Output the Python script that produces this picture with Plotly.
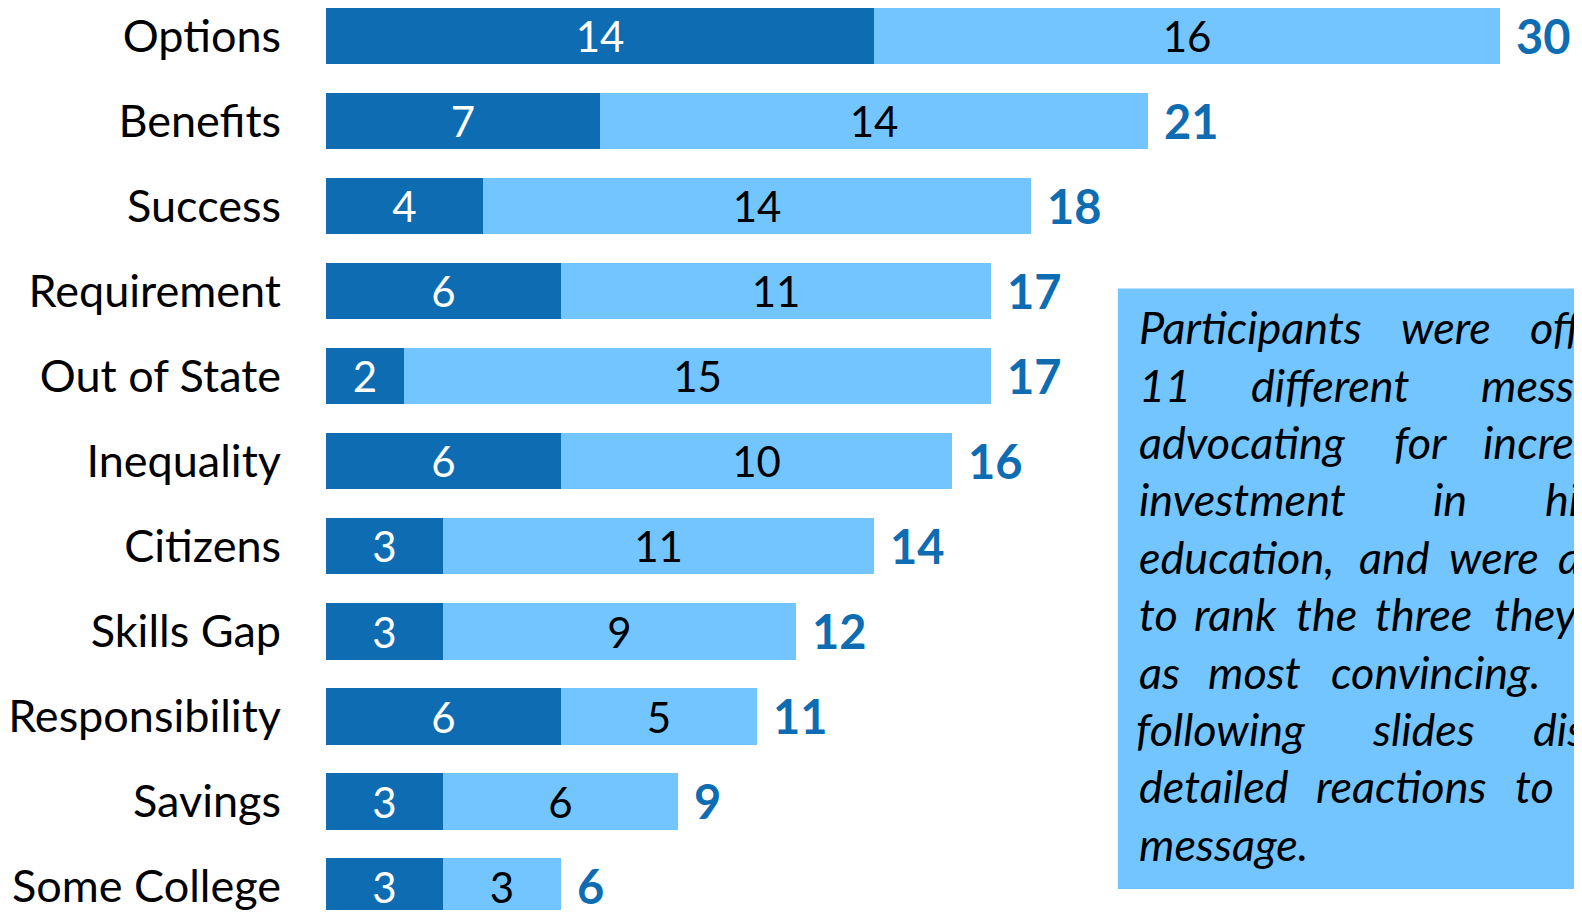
import plotly.graph_objects as go

# ---- data ----
categories = ["Options", "Benefits", "Success", "Requirement", "Out of State",
              "Inequality", "Citizens", "Skills Gap", "Responsibility",
              "Savings", "Some College"]
first_choice = [14, 7, 4, 6, 2, 6, 3, 3, 6, 3, 3]
other_choice = [16, 14, 14, 11, 15, 10, 11, 9, 5, 6, 3]
totals = [30, 21, 18, 17, 17, 16, 14, 12, 11, 9, 6]

note_lines = [
    ["Participants", "were", "offered"],
    ["11", "different", "messages"],
    ["advocating", "for", "increased"],
    ["investment", "in", "higher"],
    ["education,", "and", "were", "asked"],
    ["to", "rank", "the", "three", "they", "saw"],
    ["as", "most", "convincing.", "The"],
    ["following", "slides", "display"],
    ["detailed", "reactions", "to", "each"],
    ["message."],
]

# ---- layout geometry (window pixels; page body has an 8px margin) ----
OFF = 8
W, H = 1582 - OFF, 912 - OFF
L = 321 - OFF
PX_PER_UNIT = 39.3
ROW0, PITCH = 36.3 - OFF, 85.2
TX = -2  # small horizontal nudge of the note words
word_px = [
    [1137, 1400, 1530],
    [1137, 1250, 1481],
    [1137, 1393, 1483],
    [1137, 1432, 1545],
    [1137, 1358, 1448, 1558],
    [1137, 1192, 1295, 1374, 1494, 1610],
    [1137, 1207, 1330, 1600],
    [1134, 1371, 1533],
    [1137, 1315, 1515, 1577],
    [1137],
]
line0_py, line_pitch = 328, 57.5
box_px = (1116, 289, 1700, 891)

DARK = "#0E6CB2"
LIGHT = "#73C5FF"
FONT = "Lato"


def px_x(px):
    return (px - OFF - L) / (W - L)


def px_y(py):
    return 1 - (py - OFF) / H


fig = go.Figure()
fig.add_trace(go.Bar(
    y=categories, x=first_choice, orientation="h", width=0.663,
    marker=dict(color=DARK, line=dict(width=0)),
    text=[str(v) for v in first_choice], textposition="inside",
    insidetextanchor="middle", constraintext="none", textangle=0,
    textfont=dict(family=FONT, size=42, color="white"),
    hoverinfo="skip", showlegend=False,
))
fig.add_trace(go.Bar(
    y=categories, x=other_choice, orientation="h", width=0.663,
    marker=dict(color=LIGHT, line=dict(width=0)),
    text=[str(v) for v in other_choice], textposition="inside",
    insidetextanchor="middle", constraintext="none", textangle=0,
    textfont=dict(family=FONT, size=42, color="black"),
    hoverinfo="skip", showlegend=False,
))

annotations = []
for cat, tot in zip(categories, totals):
    annotations.append(dict(
        x=tot, y=cat, xref="x", yref="y", text=f"<b>{tot}</b>",
        showarrow=False, xanchor="left", yanchor="middle", xshift=14,
        font=dict(family=FONT, size=47, color=DARK),
    ))

for i, (words, xs) in enumerate(zip(note_lines, word_px)):
    yy = px_y(line0_py + i * line_pitch)
    for w, xp in zip(words, xs):
        annotations.append(dict(
            x=px_x(xp + TX), y=yy, xref="paper", yref="paper", text=f"<i>{w}</i>",
            showarrow=False, xanchor="left", yanchor="middle",
            font=dict(family=FONT, size=45, color="black"),
        ))

fig.add_shape(
    type="rect", xref="paper", yref="paper",
    x0=px_x(box_px[0]), x1=px_x(box_px[2]),
    y0=px_y(box_px[3]), y1=px_y(box_px[1]),
    fillcolor=LIGHT, line=dict(width=0), layer="above",
)

fig.update_layout(
    width=W, height=H,
    margin=dict(l=L, r=0, t=0, b=0, pad=0),
    barmode="stack", bargap=0,
    plot_bgcolor="white", paper_bgcolor="white",
    font=dict(family=FONT, color="black"),
    annotations=annotations,
    xaxis=dict(range=[0, (W - L) / PX_PER_UNIT], visible=False, fixedrange=True),
    yaxis=dict(
        type="category", categoryorder="array", categoryarray=categories,
        range=[(H - ROW0) / PITCH, -ROW0 / PITCH],
        showgrid=False, zeroline=False, showline=False, ticks="",
        ticklabelstandoff=44,
        tickfont=dict(family=FONT, size=45, color="black"),
        fixedrange=True,
    ),
)

fig.write_html("out.html")
